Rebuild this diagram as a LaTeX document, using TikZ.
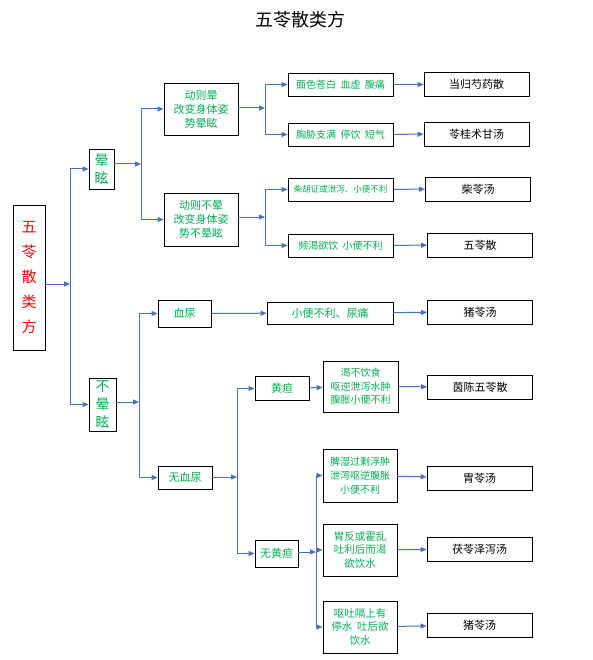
\documentclass[tikz,border=0pt]{standalone}
\usepackage{fontspec}
\setmainfont{Noto Sans CJK SC}
\usepackage{xcolor}
\usetikzlibrary{calc}
\usetikzlibrary{arrows.meta}

\definecolor{lineblue}{HTML}{4472C4}
\definecolor{textgreen}{HTML}{00B050}
\definecolor{rootred}{HTML}{FF0000}

\begin{document}
\begin{tikzpicture}[x = 1pt, y = -1pt]

\tikzstyle{box}=[rectangle, draw = black, line width = 0.9pt, inner sep = 0pt, align = center]
\tikzstyle{box_c}=[box, text = textgreen, font = \fontsize{11}{14}\selectfont]
\tikzstyle{box_f}=[box, text = black, font = \fontsize{11}{14}\selectfont, minimum width = 105pt, minimum height = 24pt]
\tikzstyle{arr}=[-{Triangle[length = 6pt, width = 5pt]}, line width = 1pt, color = lineblue]

\useasboundingbox (0, 0) rectangle (593, 660);

\coordinate (j0) at (70, 284);
\coordinate (j1) at (141, 164);
\coordinate (j2) at (265, 108);
\coordinate (j3) at (265, 217);
\coordinate (j4) at (139, 402);
\coordinate (j5) at (237, 477);
\coordinate (j6) at (316, 552);

\path
(300, 20) node[font = \fontsize{18}{20}\selectfont] (title) {五苓散类方}
(29, 277.5) node[box, text = rootred, font = \fontsize{15}{25}\selectfont, minimum width = 32pt, minimum height = 145pt] (root) {五\\苓\\散\\类\\方}
(101.5, 169) node[box_c, font = \fontsize{14}{18}\selectfont, minimum width = 25pt, minimum height = 40pt] (yun) {晕\\眩}
(102.5, 404.5) node[box_c, font = \fontsize{14}{18}\selectfont, minimum width = 27pt, minimum height = 53pt] (buyun) {不\\晕\\眩};

\path
(201, 109) node[box_c, minimum width = 74pt, minimum height = 52pt] (dong) {动则晕\\改变身体姿\\势晕眩}
(201, 219.5) node[box_c, minimum width = 74pt, minimum height = 53pt] (budong) {动则不晕\\改变身体姿\\势不晕眩}
(340.5, 84.5) node[box_c, font = \fontsize{10}{12}\selectfont, minimum width = 105pt, minimum height = 23pt] (mian) {面色苍白~~血虚~~腹痛}
(340.5, 134.5) node[box_c, font = \fontsize{10}{12}\selectfont, minimum width = 105pt, minimum height = 23pt] (xiong) {胸胁支满~~停饮~~短气}
(340.5, 189.5) node[box_c, font = \fontsize{8.5}{10}\selectfont, minimum width = 105pt, minimum height = 23pt] (chai) {柴胡证或泄泻、小便不利}
(340.5, 245.5) node[box_c, font = \fontsize{10}{12}\selectfont, minimum width = 105pt, minimum height = 23pt] (pin) {频渴欲饮~~小便不利}
(476.5, 84.5) node[box_f] (f1) {当归芍药散}
(476.5, 134) node[box_f] (f2) {苓桂术甘汤}
(478, 189) node[box_f] (f3) {柴苓汤}
(480, 245) node[box_f] (f4) {五苓散};

\path
(184.5, 313.5) node[box_c, minimum width = 53pt, minimum height = 27pt] (xue) {血尿}
(185, 477.5) node[box_c, minimum width = 54pt, minimum height = 23pt] (wuxue) {无血尿}
(330, 313) node[box_c, minimum width = 126pt, minimum height = 22pt] (xiao) {小便不利、尿痛}
(480, 312) node[box_f] (f5) {猪苓汤}
(282, 388.5) node[box_c, minimum width = 54pt, minimum height = 24pt] (huang) {黄疸}
(276.5, 553.5) node[box_c, minimum width = 43pt, minimum height = 27pt] (wuhuang) {无黄疸}
(360.5, 386.5) node[box_c, font = \fontsize{10}{13.5}\selectfont, minimum width = 75pt, minimum height = 51pt] (ke) {渴不饮食\\呕逆泄泻水肿\\腹胀小便不利}
(480, 387) node[box_f] (f6) {茵陈五苓散}
(360, 475.5) node[box_c, font = \fontsize{10}{14}\selectfont, minimum width = 74pt, minimum height = 53pt] (pi) {脾湿过剩浮肿\\泄泻呕逆腹胀\\小便不利}
(360, 550) node[box_c, font = \fontsize{10.5}{13.5}\selectfont, minimum width = 74pt, minimum height = 52pt] (wei) {胃反或霍乱\\吐利后而渴\\欲饮水}
(360, 627) node[box_c, font = \fontsize{10.5}{13.5}\selectfont, minimum width = 74pt, minimum height = 52pt] (outu) {呕吐隔上有\\停水~~吐后欲\\饮水}
(479.5, 478) node[box_f] (f7) {胃苓汤}
(479.5, 549) node[box_f] (f8) {茯苓泽泻汤}
(479.5, 625) node[box_f] (f9) {猪苓汤};

%tree arrows
\draw[arr] (root.east |- j0) to (j0);
\draw[arr] (j0) |- (yun.west);
\draw[arr] (j0) |- (buyun.west);

\draw[arr] (yun.east |- j1) to (j1);
\draw[arr] (j1) |- (dong.west);
\draw[arr] (j1) |- (budong.west);

\draw[arr] (dong.east |- j2) to (j2);
\draw[arr] (j2) |- (mian.west);
\draw[arr] (j2) |- (xiong.west);

\draw[arr] (budong.east |- j3) to (j3);
\draw[arr] (j3) |- (chai.west);
\draw[arr] (j3) |- (pin.west);

\draw[arr] (buyun.east |- j4) to (j4);
\draw[arr] (j4) |- (xue.west);
\draw[arr] (j4) |- (wuxue.west);

\draw[arr] (wuxue.east |- j5) to (j5);
\draw[arr] (j5) |- (huang.west);
\draw[arr] (j5) |- (wuhuang.west);

\draw[arr] (wuhuang.east |- j6) to (j6);
\draw[arr] (j6) |- (pi.west);
\draw[arr] (j6) |- (wei.west);
\draw[arr] (j6) |- (outu.west);

%straight arrows
\draw[arr] (mian) to (f1);
\draw[arr] (xiong) to (f2);
\draw[arr] (chai) to (f3);
\draw[arr] (pin) to (f4);
\draw[arr] (xue) to (xiao);
\draw[arr] (xiao) to (f5);
\draw[arr] (huang) to (ke);
\draw[arr] (ke) to (f6);
\draw[arr] (pi) to (f7);
\draw[arr] (wei) to (f8);
\draw[arr] (outu) to (f9);

\end{tikzpicture}
\end{document}
